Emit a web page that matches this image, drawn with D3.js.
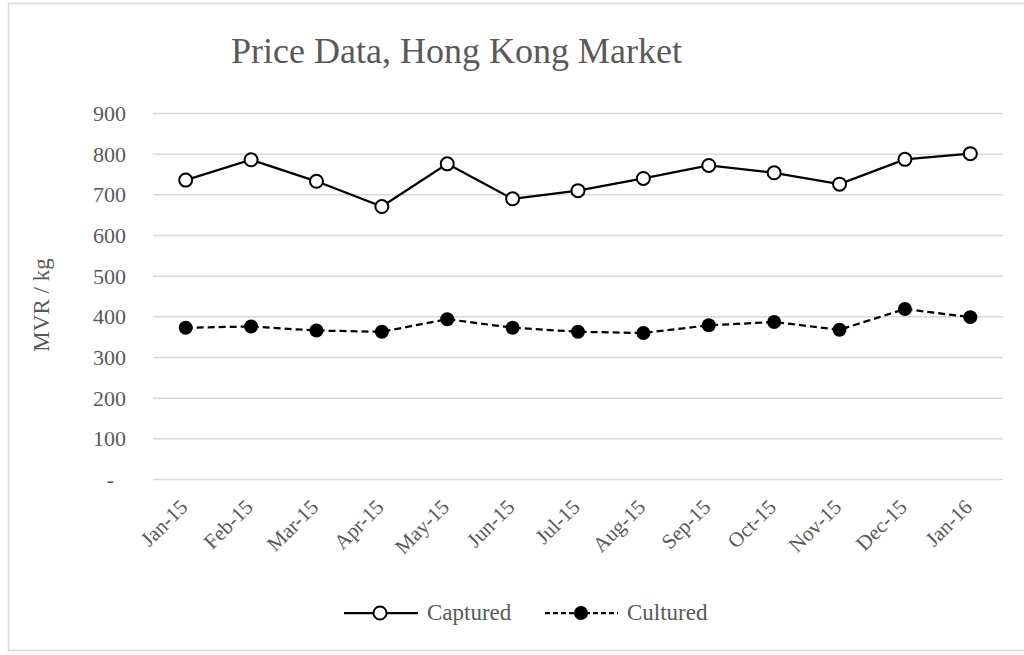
<!DOCTYPE html>
<html>
<head>
<meta charset="utf-8">
<script src="https://cdn.jsdelivr.net/npm/d3@7"></script>
<style>
  html, body { margin: 0; padding: 0; background: #fff; }
  svg { display: block; }
  text { font-family: "Liberation Serif", "Times New Roman", serif; fill: #595959; }
</style>
</head>
<body>
<svg id="chart" width="1024" height="655"></svg>
<script>
// Monthly prices, Hong Kong market (MVR / kg)
const months = ["Jan-15","Feb-15","Mar-15","Apr-15","May-15","Jun-15","Jul-15",
                "Aug-15","Sep-15","Oct-15","Nov-15","Dec-15","Jan-16"];
const captured = [735, 785, 732, 670, 775, 689, 709, 739, 771, 753, 725, 786, 800];
const cultured = [372, 375, 365, 362, 393, 372, 362, 359, 378, 386, 367, 418, 398];
const yTicks = [0, 100, 200, 300, 400, 500, 600, 700, 800, 900];

const svg = d3.select("#chart");

// outer frame
svg.append("rect")
  .attr("x", 8.5).attr("y", 3.5)
  .attr("width", 1030).attr("height", 647)
  .attr("fill", "#fff").attr("stroke", "#d9d9d9").attr("stroke-width", 1.5);

const plot = { left: 153, right: 1003, top: 113, bottom: 479 };

const x = d3.scaleBand().domain(months).range([plot.left, plot.right]);
const y = d3.scaleLinear().domain([0, 900]).range([plot.bottom, plot.top]);

// title
svg.append("text")
  .attr("x", 231).attr("y", 63)
  .attr("font-size", 36)
  .text("Price Data, Hong Kong Market");

// gridlines + y tick labels
const yAxis = d3.axisLeft(y)
  .tickValues(yTicks)
  .tickSize(-(plot.right - plot.left))
  .tickPadding(27)
  .tickFormat(d => d === 0 ? "-" : d3.format("d")(d));

const gy = svg.append("g")
  .attr("transform", `translate(${plot.left},0)`)
  .call(yAxis);
gy.select(".domain").remove();
gy.selectAll(".tick line").attr("stroke", "#d9d9d9").attr("stroke-width", 1.5);
gy.selectAll(".tick text")
  .attr("font-size", 22)
  .attr("fill", "#595959")
  .attr("font-family", "Liberation Serif, serif")
  .attr("dy", "0.34em")
  .filter(d => d === 0)
  .attr("dx", -12);

// y axis title
svg.append("text")
  .attr("transform", "translate(49,305) rotate(-90)")
  .attr("text-anchor", "middle")
  .attr("font-size", 23)
  .text("MVR / kg");

// x tick labels (rotated)
const xAxis = d3.axisBottom(x).tickSize(0).tickPadding(0);
const gx = svg.append("g")
  .attr("transform", `translate(0,${plot.bottom})`)
  .call(xAxis);
gx.select(".domain").remove();
gx.selectAll(".tick text")
  .attr("font-size", 21)
  .attr("fill", "#595959")
  .attr("font-family", "Liberation Serif, serif")
  .attr("text-anchor", "end")
  .attr("transform", "translate(-2,24) rotate(-45)")
  .attr("dy", "0.35em")
  .attr("y", 0);

// lines
const cx = d => x(d) + x.bandwidth() / 2;
const line = d3.line().x((d, i) => cx(months[i])).y(d => y(d));

svg.append("path")
  .datum(captured)
  .attr("d", line)
  .attr("fill", "none").attr("stroke", "#000").attr("stroke-width", 2.25);

svg.append("path")
  .datum(cultured)
  .attr("d", line)
  .attr("fill", "none").attr("stroke", "#000").attr("stroke-width", 2.25)
  .attr("stroke-dasharray", "7,4");

// markers
svg.append("g").selectAll("circle")
  .data(captured).join("circle")
  .attr("cx", (d, i) => cx(months[i])).attr("cy", d => y(d))
  .attr("r", 6.5).attr("fill", "#fff").attr("stroke", "#000").attr("stroke-width", 2);

svg.append("g").selectAll("circle")
  .data(cultured).join("circle")
  .attr("cx", (d, i) => cx(months[i])).attr("cy", d => y(d))
  .attr("r", 7).attr("fill", "#000");

// legend
const legend = svg.append("g");
const ly = 613;
legend.append("line")
  .attr("x1", 344).attr("x2", 418).attr("y1", ly).attr("y2", ly)
  .attr("stroke", "#000").attr("stroke-width", 2.25);
legend.append("circle")
  .attr("cx", 380).attr("cy", ly).attr("r", 6.5)
  .attr("fill", "#fff").attr("stroke", "#000").attr("stroke-width", 2);
legend.append("text")
  .attr("x", 427).attr("y", ly).attr("dy", "0.3em")
  .attr("font-size", 23)
  .text("Captured");

legend.append("line")
  .attr("x1", 545).attr("x2", 618).attr("y1", ly).attr("y2", ly)
  .attr("stroke", "#000").attr("stroke-width", 2.25)
  .attr("stroke-dasharray", "5,3");
legend.append("circle")
  .attr("cx", 581).attr("cy", ly).attr("r", 7).attr("fill", "#000");
legend.append("text")
  .attr("x", 627).attr("y", ly).attr("dy", "0.3em")
  .attr("font-size", 23)
  .text("Cultured");
</script>
</body>
</html>
